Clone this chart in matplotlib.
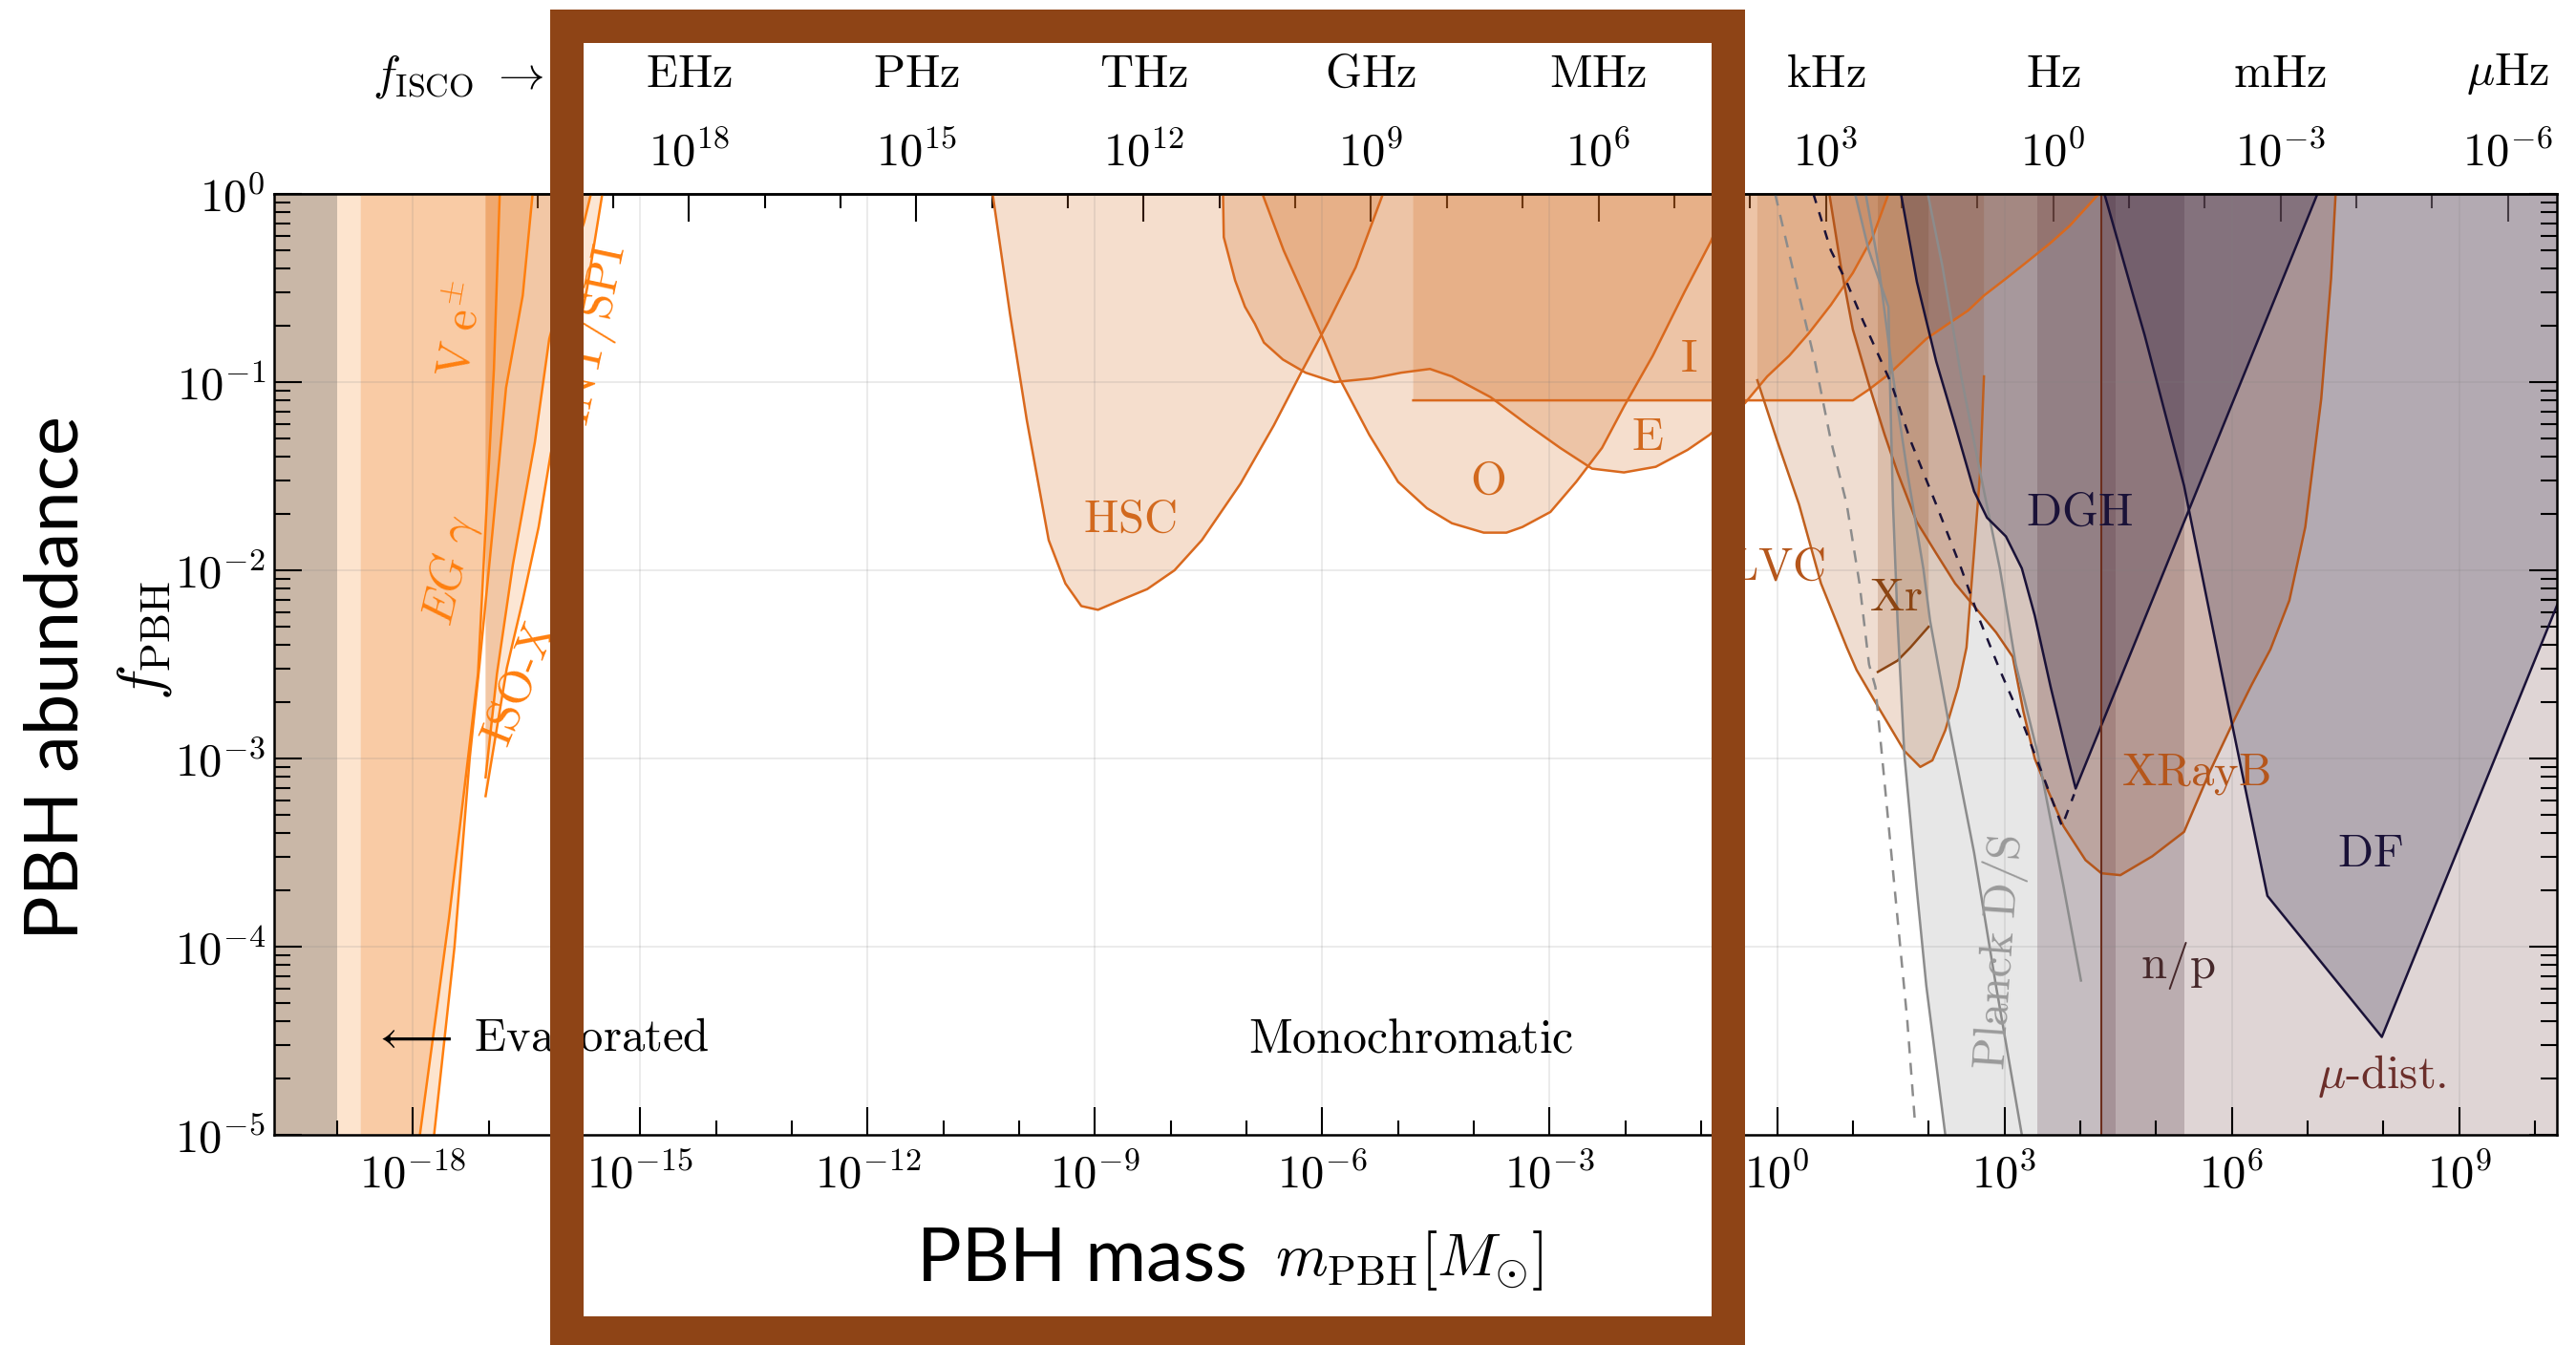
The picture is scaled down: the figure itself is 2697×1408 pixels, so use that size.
import numpy as np
import matplotlib.pyplot as plt
from matplotlib.patches import Rectangle
from matplotlib.ticker import FixedLocator, NullFormatter, FuncFormatter

plt.rcParams['mathtext.fontset'] = 'cm'
plt.rcParams['font.size'] = 35

# every curve is given as log10(m_PBH / M_sun) and log10(f_PBH)

# --- evaporation constraints (left) ---
evap_edge = -19.0
evap_band = -18.69
egam_lm = [-17.92, -17.52, -17.14, -17.04, -16.93, -16.85]
egam_lf = [-5.04, -3.84, -2.55, -1.77, -0.93, 0.04]
ve_lm = [-17.73, -17.45, -17.25, -17.12, -16.95, -16.77, -16.55, -16.41]
ve_lf = [-5.04, -4.0, -3.0, -2.5, -1.8, -1.03, -0.54, 0.04]
wedge_edge = -17.04
int_lm = [-17.04, -16.89, -16.68, -16.39, -16.20, -15.95, -15.74, -15.65]
int_lf = [-3.10, -2.55, -1.97, -1.32, -0.77, -0.40, -0.15, 0.0]
iso_lm = [-17.04, -16.76, -16.55, -16.34, -16.18, -15.90, -15.70, -15.50]
iso_lf = [-3.20, -2.52, -2.16, -1.77, -1.38, -0.90, -0.50, 0.0]

# --- microlensing ---
hsc_lm = [-10.35, -10.12, -9.90, -9.61, -9.39, -9.18, -8.96, -8.67, -8.31, -7.95, -7.59, -7.08, -6.64, -6.28, -5.92, -5.56, -5.20]
hsc_lf = [0.0, -0.64, -1.20, -1.84, -2.07, -2.19, -2.21, -2.16, -2.10, -2.00, -1.84, -1.54, -1.23, -0.95, -0.68, -0.39, 0.0]
ogle_lm = [-6.79, -6.51, -6.01, -5.76, -5.38, -5.00, -4.62, -4.29, -3.87, -3.57, -3.36, -2.99, -2.65, -2.31, -2.02, -1.64, -1.22, -0.87, -0.62]
ogle_lf = [0.0, -0.30, -0.75, -0.99, -1.28, -1.53, -1.67, -1.75, -1.80, -1.80, -1.77, -1.69, -1.53, -1.35, -1.13, -0.86, -0.52, -0.25, 0.0]
eros_lm = [-7.31, -7.30, -7.15, -7.02, -6.89, -6.77, -6.52, -6.22, -5.84, -5.34, -4.96, -4.58, -4.29, -3.78, -3.28, -2.86, -2.44, -2.02, -1.60, -1.18, -0.89, -0.42, -0.13, 0.16, 0.42, 0.71, 1.00, 1.26, 1.47]
eros_lf = [0.0, -0.23, -0.46, -0.60, -0.69, -0.79, -0.88, -0.95, -1.00, -0.98, -0.95, -0.93, -0.97, -1.08, -1.23, -1.35, -1.46, -1.48, -1.45, -1.36, -1.28, -1.11, -0.97, -0.86, -0.74, -0.59, -0.42, -0.23, 0.0]
icar_lm = [-4.80, -4.80, 1.00, 1.21, 1.47, 1.68, 1.97, 2.26, 2.52, 2.73, 3.02, 3.27, 3.61, 3.86, 4.20, 4.25]
icar_lf = [0.0, -1.097, -1.097, -1.04, -0.96, -0.88, -0.77, -0.69, -0.62, -0.54, -0.45, -0.37, -0.26, -0.17, -0.02, 0.0]

# --- GW / accretion / dynamics (right) ---
lvc_lm = [-0.26, -0.26, 0.00, 0.29, 0.58, 0.92, 1.05, 1.34, 1.68, 1.89, 2.05, 2.22, 2.39, 2.50, 2.60, 2.68, 2.73, 2.73]
lvc_lf = [0.0, -0.99, -1.31, -1.65, -2.07, -2.41, -2.53, -2.73, -2.96, -3.045, -3.01, -2.85, -2.62, -2.41, -1.90, -1.48, -0.97, 0.0]
xrb_lm = [0.69, 0.84, 1.00, 1.21, 1.42, 1.59, 1.84, 2.10, 2.35, 2.64, 2.89, 3.11, 3.25, 3.40, 3.52, 3.78, 4.07, 4.28, 4.53, 4.95, 5.37, 5.71, 6.05, 6.26, 6.51, 6.76, 6.97, 7.18, 7.31, 7.37]
xrb_lf = [0.0, -0.38, -0.72, -1.01, -1.28, -1.48, -1.74, -1.91, -2.07, -2.21, -2.33, -2.46, -2.75, -3.00, -3.12, -3.36, -3.54, -3.61, -3.62, -3.52, -3.39, -3.07, -2.78, -2.61, -2.42, -2.16, -1.77, -1.09, -0.45, 0.0]
xr_lm = [1.33, 1.33, 1.59, 1.76, 2.00, 2.00]
xr_lf = [0.0, -2.54, -2.48, -2.41, -2.30, 0.0]
pl1_lm = [1.03, 1.21, 1.47, 1.49, 1.53, 1.59, 1.68, 1.84, 1.97, 2.22]
pl1_lf = [0.0, -0.30, -0.60, -1.00, -1.65, -2.27, -2.98, -3.68, -4.21, -5.0]
pl2_lm = [1.17, 1.34, 1.53, 1.72, 1.93, 2.02, 2.26, 2.60, 2.89, 3.23]
pl2_lf = [0.0, -0.38, -0.97, -1.48, -1.99, -2.27, -2.80, -3.50, -4.21, -5.0]
pl3_lm = [1.99, 2.18, 2.43, 2.68, 2.94, 3.15, 3.44, 3.78, 4.01]
pl3_lf = [0.0, -0.38, -0.97, -1.48, -1.99, -2.50, -2.975, -3.68, -4.18]
gdash_lm = [-0.025, 0.248, 0.50, 0.71, 0.92, 1.088, 1.214, 1.298, 1.424, 1.592, 1.718, 1.823]
gdash_lf = [0.0, -0.467, -0.89, -1.31, -1.65, -2.07, -2.50, -2.62, -3.15, -3.86, -4.39, -4.95]
ndash_lm = [0.48, 0.71, 0.92, 1.13, 1.51, 1.76, 2.10, 2.43, 2.68, 2.94, 3.23, 3.48, 3.76, 3.92]
ndash_lf = [0.0, -0.30, -0.47, -0.67, -1.01, -1.31, -1.65, -1.99, -2.27, -2.53, -2.80, -3.06, -3.36, -3.19]
dgh_lm = [1.635, 1.845, 2.10, 2.35, 2.60, 2.77, 3.02, 3.23, 3.40, 3.61, 3.82, 3.94, 7.13]
dgh_lf = [0.0, -0.467, -0.89, -1.23, -1.58, -1.72, -1.82, -1.99, -2.24, -2.62, -2.97, -3.16, 0.0]
df_lm = [4.32, 4.70, 4.85, 5.37, 5.99, 6.47, 7.98, 10.6, 10.6]
df_lf = [0.0, -0.54, -0.75, -1.55, -2.79, -3.73, -4.48, -1.88, 0.0]
band_a = (3.43, 4.47)
band_np = (4.28, 5.37)
mu_start = 5.37
np_line = 4.28

# axes ranges and ticks
xlim_l = (-19.83, 10.29)
ylim_l = (-5.0, 0.0)
mass_major = np.arange(-18, 10, 3)
freq_exp = [18, 15, 12, 9, 6, 3, 0, -3, -6]
freq_names = [r'\mathrm{EHz}', r'\mathrm{PHz}', r'\mathrm{THz}', r'\mathrm{GHz}', r'\mathrm{MHz}',
              r'\mathrm{kHz}', r'\mathrm{Hz}', r'\mathrm{mHz}', r'\mu\mathrm{Hz}']
f_isco = 4.4e3  # Hz * M_sun / m


def P(lm, lf):
    return 10.0 ** np.asarray(lm), 10.0 ** np.asarray(lf)


def pow10(v, pos=None):
    return r'$10^{%d}$' % int(round(np.log10(v)))


fig = plt.figure(figsize=(26.97, 14.08), dpi=100)
ax = fig.add_axes([0.10642, 0.15625, 0.88617, 0.69957])
ax.set_xscale('log')
ax.set_yscale('log')
ax.set_xlim(10.0 ** xlim_l[0], 10.0 ** xlim_l[1])
ax.set_ylim(10.0 ** ylim_l[0], 10.0 ** ylim_l[1])

orange = '#FF7F0E'
ml_col = '#D2691E'
navy = '#1A1238'
gray = '#8C8C8C'

# left: evaporated / evaporation bounds
ax.axvspan(10.0 ** xlim_l[0], 10.0 ** evap_edge, color='#C9B7A7', lw=0, zorder=1)
ax.axvspan(10.0 ** evap_edge, 10.0 ** evap_band, color='#FDE4CE', lw=0, zorder=1)
x, y = P([evap_band] + ve_lm + [evap_band], [-5.1] + ve_lf + [0.1])
ax.fill(x, y, color='#FDE4CE', lw=0, zorder=1)
x, y = P([evap_band] + egam_lm + [evap_band], [-5.1] + egam_lf + [0.1])
ax.fill(x, y, color='#F9CBA5', lw=0, zorder=1)
x, y = P([wedge_edge] + iso_lm, [0.0] + iso_lf)
ax.fill(x, y, color='#F08228', alpha=0.2, lw=0, zorder=1)
x, y = P([wedge_edge] + int_lm, [0.0] + int_lf)
ax.fill(x, y, color='#D86E1C', alpha=0.25, lw=0, zorder=1)
for lm, lf in [(egam_lm, egam_lf), (ve_lm, ve_lf), (int_lm, int_lf), (iso_lm, iso_lf)]:
    ax.plot(*P(lm, lf), color=orange, lw=1.8, zorder=2)

# background bands on the right
ax.fill(*P(pl1_lm + [10.6, 10.6], pl1_lf + [-5.1, 0.1]), color='#B0B0B0', alpha=0.3, lw=0, zorder=1)
ax.axvspan(10.0 ** band_a[0], 10.0 ** band_a[1], color='#775C6A', alpha=0.3, lw=0, zorder=1)
ax.axvspan(10.0 ** band_np[0], 10.0 ** band_np[1], color='#6A424B', alpha=0.35, lw=0, zorder=1)
ax.axvspan(10.0 ** mu_start, 10.0 ** 10.6, color='#C29090', alpha=0.2, lw=0, zorder=1)

# microlensing
for lm, lf in [(hsc_lm, hsc_lf), (ogle_lm, ogle_lf), (eros_lm, eros_lf), (icar_lm, icar_lf)]:
    ax.fill(*P(lm, lf), color=ml_col, alpha=0.22, lw=0, zorder=1)
for lm, lf in [(hsc_lm, hsc_lf), (ogle_lm, ogle_lf), (eros_lm, eros_lf), (icar_lm[1:], icar_lf[1:])]:
    ax.plot(*P(lm, lf), color='#D9691E', lw=1.8, zorder=2)

# LVC, X-ray, Xr
ax.fill(*P(lvc_lm, lvc_lf), color='#B8662E', alpha=0.22, lw=0, zorder=1)
ax.plot(*P(lvc_lm[1:-1], lvc_lf[1:-1]), color='#C0601E', lw=1.8, zorder=2)
ax.fill(*P(xrb_lm, xrb_lf), color='#A0522D', alpha=0.22, lw=0, zorder=1)
ax.plot(*P(xrb_lm, xrb_lf), color='#B5561B', lw=1.8, zorder=2)
ax.fill(*P(xr_lm, xr_lf), color='#8B4513', alpha=0.2, lw=0, zorder=1)
ax.plot(*P(xr_lm[1:-1], xr_lf[1:-1]), color='#8B4513', lw=1.8, zorder=2)

# Planck accretion lines
for lm, lf in [(pl1_lm, pl1_lf), (pl2_lm, pl2_lf), (pl3_lm, pl3_lf)]:
    ax.plot(*P(lm, lf), color=gray, lw=1.8, zorder=2)
ax.plot(*P(gdash_lm, gdash_lf), color=gray, lw=1.8, ls=(0, (5, 4)), zorder=2)

# dynamical constraints
ax.fill(*P(dgh_lm, dgh_lf), color=navy, alpha=0.25, lw=0, zorder=1)
ax.plot(*P(dgh_lm, dgh_lf), color=navy, lw=1.8, zorder=2)
ax.plot(*P(ndash_lm, ndash_lf), color=navy, lw=1.8, ls=(0, (4, 4)), zorder=2)
ax.fill(*P(df_lm, df_lf), color=navy, alpha=0.22, lw=0, zorder=1)
ax.plot(*P(df_lm[:-1], df_lf[:-1]), color=navy, lw=1.8, zorder=2)
ax.axvline(10.0 ** np_line, color='#6B2E1E', lw=1.5, zorder=2)


# labels
def lab(lm, lf, s, c, rot=0, **kw):
    ax.text(10.0 ** lm, 10.0 ** lf, s, color=c, rotation=rot, ha='center', va='center', zorder=3, **kw)


lab(-17.36, -0.72, r'$\mathrm{V\ e^{\pm}}$', orange, 80)
lab(-17.50, -2.00, r'$EG\ \gamma$', orange, 77)
lab(-16.60, -2.60, r'$\mathrm{ISO\text{-}X}$', orange, 68)
lab(-15.62, -0.75, r'$\mathrm{INT/SPI}$', orange, 78)
lab(-8.54, -1.725, r'$\mathrm{HSC}$', '#D2691E')
lab(-3.82, -1.52, r'$\mathrm{O}$', '#D2691E')
lab(-1.71, -1.29, r'$\mathrm{E}$', '#D2691E')
lab(-1.17, -0.875, r'$\mathrm{I}$', '#D2691E')
lab(0.0, -1.98, r'$\mathrm{LVC}$', '#B5561B')
lab(1.57, -2.14, r'$\mathrm{Xr}$', '#8B4513')
lab(3.99, -1.69, r'$\mathrm{DGH}$', navy)
lab(5.52, -3.08, r'$\mathrm{XRayB}$', '#B5561B')
lab(7.83, -3.50, r'$\mathrm{DF}$', navy)
lab(5.29, -4.10, r'$\mathrm{n/p}$', '#46282A')
lab(7.98, -4.69, r'$\mu\mathrm{\text{-}dist.}$', '#6B2E2A')
lab(2.94, -4.03, r'$\mathrm{Planck\ D/S}$', '#9A9A9A', 86)
ax.text(10.0 ** -18.55, 10.0 ** -4.49, r'$\longleftarrow\ \mathrm{Evaporated}$', ha='left', va='center', zorder=3)
ax.text(10.0 ** -6.97, 10.0 ** -4.49, r'$\mathrm{Monochromatic}$', ha='left', va='center', zorder=3,
        fontsize=36)

# axes cosmetics
ax.xaxis.set_major_locator(FixedLocator(10.0 ** mass_major))
ax.xaxis.set_minor_locator(FixedLocator(10.0 ** np.arange(-20, 11)))
ax.xaxis.set_major_formatter(FuncFormatter(pow10))
ax.xaxis.set_minor_formatter(NullFormatter())
ax.yaxis.set_major_locator(FixedLocator(10.0 ** np.arange(-5, 1)))
ax.yaxis.set_minor_locator(FixedLocator([k * 10.0 ** e for e in range(-5, 0) for k in range(2, 10)]))
ax.yaxis.set_major_formatter(FuncFormatter(pow10))
ax.yaxis.set_minor_formatter(NullFormatter())
ax.tick_params(which='both', direction='in', top=False, right=True, width=1.5, labelsize=35)
ax.tick_params(axis='x', which='major', length=21, pad=13)
ax.tick_params(axis='x', which='minor', length=10.5)
ax.tick_params(axis='y', which='major', length=21, pad=6.5)
ax.tick_params(axis='y', which='minor', length=12)
for s in ax.spines.values():
    s.set_linewidth(1.8)
ax.set_axisbelow('line')
ax.grid(which='major', color='#808080', alpha=0.2, lw=1.1)

# ISCO frequency axis on top
with np.errstate(divide='ignore'):
    sec = ax.secondary_xaxis('top', functions=(lambda m: f_isco / m, lambda f: f_isco / f))
sec.xaxis.set_major_locator(FixedLocator(10.0 ** np.array(freq_exp, float)))
sec.xaxis.set_minor_locator(FixedLocator(10.0 ** np.arange(-7, 22, dtype=float)))
sec.xaxis.set_major_formatter(FuncFormatter(pow10))
sec.xaxis.set_minor_formatter(NullFormatter())
sec.tick_params(which='both', direction='in', width=1.5, labelsize=35)
sec.tick_params(which='major', length=21, pad=14)
sec.tick_params(which='minor', length=10.5)
sec.spines['top'].set_linewidth(1.8)
for e, name in zip(freq_exp, freq_names):
    ax.text(f_isco / 10.0 ** e, 1.128, '$' + name + '$', transform=ax.get_xaxis_transform(),
            ha='center', va='center', fontsize=35)
fig.text(0.178, 0.943, r'$f_{\mathrm{ISCO}}\ \rightarrow$', ha='center', va='center', fontsize=35)

# axis titles
fig.text(0.0223, 0.4964, 'PBH abundance', rotation=90, ha='center', va='center', fontsize=56, family='Lato')
fig.text(0.056, 0.5234, r'$f_{\mathrm{PBH}}$', rotation=90, ha='center', va='center', fontsize=45)
fig.text(0.356, 0.048, 'PBH mass', ha='left', va='baseline', fontsize=56, family='Lato')
fig.text(0.495, 0.052, r'$m_{\mathrm{PBH}}[M_{\odot}]$', ha='left', va='baseline', fontsize=45)

# highlight frame drawn over the figure
fig.add_artist(Rectangle((0.2199, 0.0089), 0.451, 0.9719, transform=fig.transFigure, fill=False,
                         edgecolor='#8E4416', lw=25.2, joinstyle='miter', zorder=10))

fig.savefig('out.png', dpi=100)
